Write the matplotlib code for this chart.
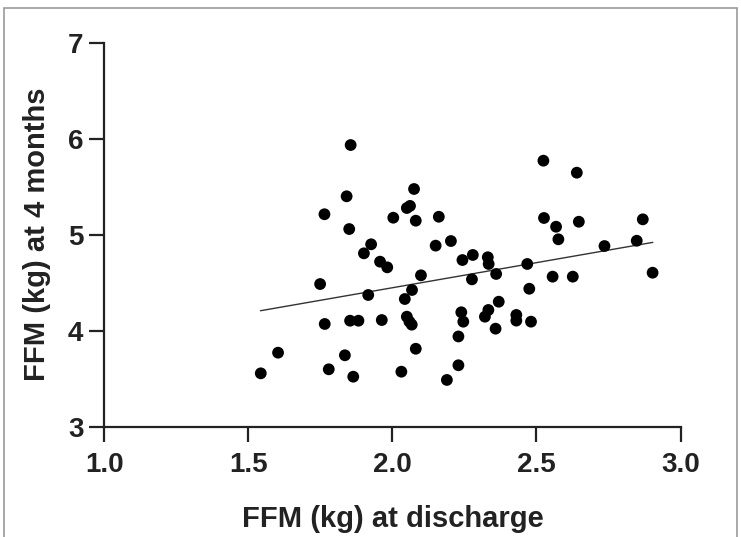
import numpy as np
import matplotlib
matplotlib.use("Agg")
import matplotlib.pyplot as plt
from matplotlib.patches import Rectangle

# FFM at discharge (kg) vs FFM at 4 months (kg)
ffm_discharge = [
    1.543, 1.603, 1.749, 1.764, 1.765, 1.779, 1.835, 1.841, 1.850, 1.855,
    1.853, 1.864, 1.882, 1.901, 1.926, 1.916, 1.957, 1.982, 1.963, 2.003,
    2.031, 2.043, 2.050, 2.061, 2.075, 2.081, 2.068, 2.099, 2.050, 2.059,
    2.067, 2.081, 2.150, 2.161, 2.189, 2.203, 2.229, 2.229, 2.243, 2.239,
    2.246, 2.279, 2.276, 2.331, 2.334, 2.360, 2.321, 2.333, 2.369, 2.358,
    2.430, 2.430, 2.468, 2.475, 2.481, 2.524, 2.526, 2.556, 2.568, 2.576,
    2.640, 2.647, 2.626, 2.736, 2.848, 2.869, 2.903,
]
ffm_4months = [
    3.556, 3.771, 4.486, 5.213, 4.070, 3.598, 3.744, 5.400, 5.059, 5.934,
    4.104, 3.521, 4.104, 4.806, 4.900, 4.372, 4.719, 4.660, 4.111, 5.177,
    3.573, 4.330, 5.278, 5.300, 5.476, 5.146, 4.424, 4.577, 4.146, 4.094,
    4.063, 3.812, 4.886, 5.187, 3.487, 4.934, 3.940, 3.640, 4.736, 4.192,
    4.094, 4.789, 4.535, 4.765, 4.695, 4.591, 4.146, 4.216, 4.302, 4.021,
    4.164, 4.105, 4.695, 4.437, 4.094, 5.771, 5.174, 4.563, 5.083, 4.952,
    5.646, 5.135, 4.563, 4.882, 4.937, 5.160, 4.604,
]
x_ticks = [1.0, 1.5, 2.0, 2.5, 3.0]
y_ticks = [3, 4, 5, 6, 7]

plt.rcParams["font.family"] = ["Liberation Sans", "DejaVu Sans"]
plt.rcParams["font.weight"] = "bold"

fig = plt.figure(figsize=(7.41, 5.37), dpi=100)
ax = fig.add_axes([0.1408, 0.2054, 0.7776, 0.7151])

x = np.array(ffm_discharge)
y = np.array(ffm_4months)
ax.scatter(x, y, s=72, color="black", edgecolors="none", zorder=3)

# linear regression line across the data range
slope, intercept = np.polyfit(x, y, 1)
xf = np.array([x.min(), x.max()])
ax.plot(xf, slope * xf + intercept, color="#333333", lw=1.0, zorder=2)

ax.set_xlim(1.0, 3.0)
ax.set_ylim(3, 7)
ax.set_xticks(x_ticks)
ax.set_xticklabels([f"{v:.1f}" for v in x_ticks])
ax.set_yticks(y_ticks)
ax.set_yticklabels([str(v) for v in y_ticks])

for side in ["top", "right"]:
    ax.spines[side].set_visible(False)
for side in ["left", "bottom"]:
    ax.spines[side].set_linewidth(1.6)
    ax.spines[side].set_color("#222222")

ax.tick_params(axis="both", length=11, width=1.6, color="#222222",
               labelsize=20, labelcolor="#222222")
ax.tick_params(axis="x", pad=7)
ax.tick_params(axis="y", pad=4)

ax.set_xlabel("FFM (kg) at discharge", fontsize=21, fontweight="bold",
              color="#222222", labelpad=20)
ax.set_ylabel("FFM (kg) at 4 months", fontsize=21, fontweight="bold",
              color="#222222", labelpad=12)

# thin grey frame around the figure
fig.patches.append(Rectangle((4 / 741, -0.01), 733 / 741, 1 - 8 / 537 + 0.01,
                             transform=fig.transFigure, fill=False,
                             edgecolor="#999999", lw=1.2))

fig.savefig("out.png", dpi=100)
